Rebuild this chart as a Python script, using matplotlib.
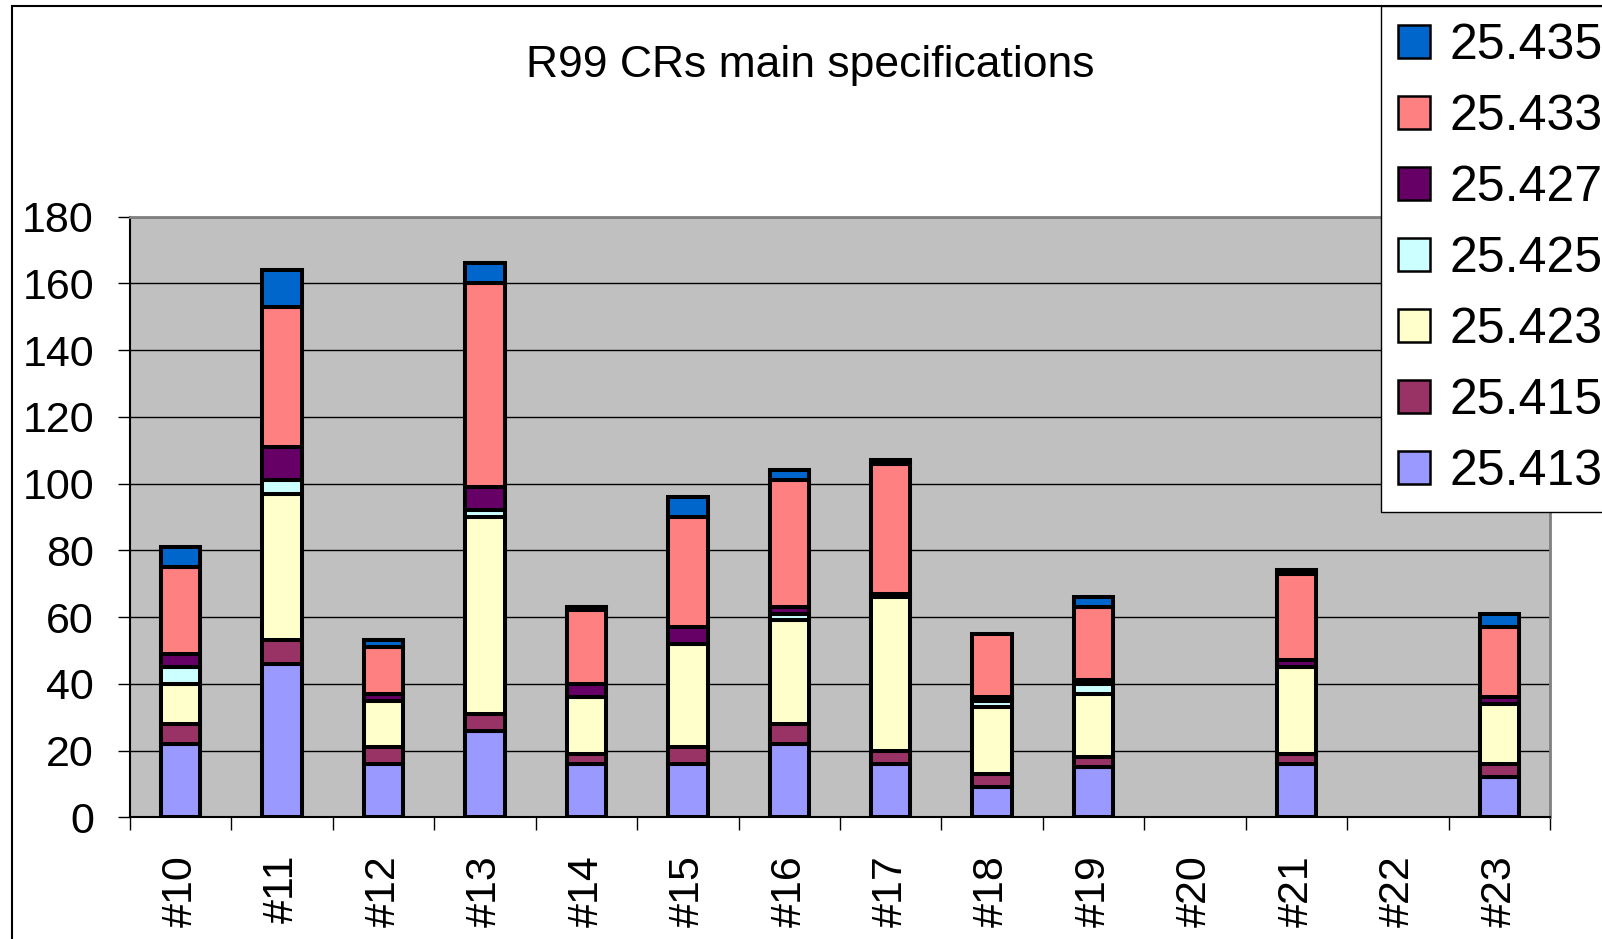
import matplotlib
matplotlib.use("Agg")
import matplotlib.pyplot as plt
from matplotlib.patches import Rectangle
import numpy as np

plt.rcParams['font.family'] = ['Liberation Sans', 'DejaVu Sans']

categories = ['#10', '#11', '#12', '#13', '#14', '#15', '#16',
              '#17', '#18', '#19', '#20', '#21', '#22', '#23']
series_names = ['25.413', '25.415', '25.423', '25.425', '25.427', '25.433', '25.435']
s413 = [22, 46, 16, 26, 16, 16, 22, 16, 9, 15, 0, 16, 0, 12]
s415 = [6, 7, 5, 5, 3, 5, 6, 4, 4, 3, 0, 3, 0, 4]
s423 = [12, 44, 14, 59, 17, 31, 31, 46, 20, 19, 0, 26, 0, 18]
s425 = [5, 4, 0, 2, 0, 0, 2, 0, 2, 3, 0, 0, 0, 0]
s427 = [4, 10, 2, 7, 4, 5, 2, 1, 1, 1, 0, 2, 0, 2]
s433 = [26, 42, 14, 61, 22, 33, 38, 39, 19, 22, 0, 26, 0, 21]
s435 = [6, 11, 2, 6, 1, 6, 3, 1, 0, 3, 0, 1, 0, 4]
series_values = [s413, s415, s423, s425, s427, s433, s435]
colors = ['#9999FF', '#993366', '#FFFFCC', '#CCFFFF', '#660066', '#FF8080', '#0066CC']
yticks = list(range(0, 181, 20))

W, H = 1602, 939
fig = plt.figure(figsize=(W / 100, H / 100), dpi=100)
ax = fig.add_axes([130 / W, 1 - 817.3 / H, (1550 - 130) / W, (817.3 - 216.7) / H])
ax.set_facecolor('#C0C0C0')

x = np.arange(len(categories))
bottom = np.zeros(len(categories))
handles = []
lw = 2.9
for name, vals, col in zip(series_names, series_values, colors):
    v = np.array(vals, dtype=float)
    lws = np.where(v > 0, lw, 0.0)
    b = ax.bar(x, v, width=0.39, bottom=bottom, color=col, edgecolor='black',
               linewidth=lws, label=name, zorder=3)
    handles.append(b)
    bottom = bottom + v

ax.set_xlim(-0.5, len(categories) - 0.5)
ax.set_ylim(0, 180)
ax.set_yticks(yticks)
ax.set_yticklabels([str(t) for t in yticks])
ax.grid(axis='y', color='black', linewidth=1.0, zorder=1)
ax.set_axisbelow(True)

ax.set_xticks(x)
ax.set_xticklabels(categories, rotation=90)
ax.set_xticks(np.arange(-0.5, len(categories), 1.0), minor=True)
ax.tick_params(axis='x', which='major', length=0, pad=27, labelsize=31)
ax.tick_params(axis='x', which='minor', length=9, width=1.0, direction='out', color='black')
ax.tick_params(axis='y', length=9, width=1.0, direction='out', pad=17, labelsize=31, color='black')

for s in ['left', 'bottom']:
    ax.spines[s].set_color('black')
    ax.spines[s].set_linewidth(1.5)
for s in ['top', 'right']:
    ax.spines[s].set_color('#808080')
    ax.spines[s].set_linewidth(2.0)

fig.text(810 / W, 1 - 77 / H, 'R99 CRs main specifications', ha='center', va='baseline',
         fontsize=32, color='black')

# outer chart frame
fig.add_artist(Rectangle((12 / W, -0.2), 1.5, (1 - 6 / H) + 0.2, transform=fig.transFigure,
                         fill=False, edgecolor='black', linewidth=1.5, zorder=0))

leg = fig.legend(handles[::-1], series_names[::-1], loc='upper left',
                 bbox_to_anchor=(1381 / W, 1 - 6 / H), bbox_transform=fig.transFigure,
                 borderaxespad=0, fontsize=36, frameon=True, fancybox=False,
                 edgecolor='black', framealpha=1, handlelength=0.64, handleheight=0.64,
                 handletextpad=0.38, labelspacing=0.5, borderpad=0.34)
leg.get_frame().set_linewidth(1.0)
for p in leg.get_patches():
    p.set_linewidth(1.8)

fig.savefig('out.png', dpi=100)
